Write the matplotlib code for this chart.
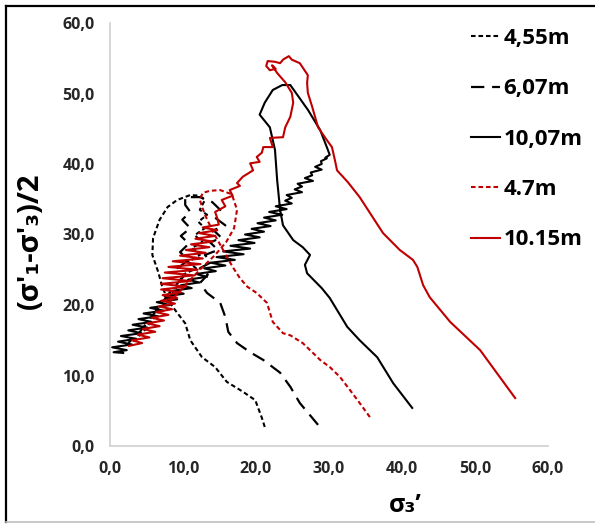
import matplotlib
matplotlib.use("Agg")
import matplotlib.pyplot as plt
from matplotlib.lines import Line2D

plt.rcParams['font.family'] = ['Open Sans', 'DejaVu Sans']

RED = '#c00000'

# stress paths, (sigma3', (sigma1'-sigma3')/2)
x_455 = [21.2, 20.8, 19.9, 18.2, 16.0, 14.4, 12.6, 11.0, 10.3, 9.2, 7.9, 7.1, 6.6, 5.8, 5.9, 6.8,
         7.9, 9.2, 11.0, 12.3, 13.0, 12.3, 13.3, 12.1, 13.0, 11.6, 12.7, 11.2, 12.3, 10.7, 11.8,
         10.0, 8.9, 6.8, 4.8, 3.0]
y_455 = [2.7, 4.0, 6.5, 7.7, 9.1, 11.2, 12.6, 15.0, 17.4, 18.9, 20.7, 22.8, 24.7, 27.1, 29.5, 32.1,
         33.9, 34.9, 35.6, 35.5, 34.9, 33.5, 32.8, 31.8, 30.9, 29.9, 28.9, 28.1, 27.1, 26.1, 25.2,
         24.3, 22.1, 19.3, 16.5, 14.6]

x_607 = [28.5, 26.0, 24.7, 23.3, 21.0, 19.2, 17.4, 16.2, 15.8, 15.1, 13.3, 12.3, 13.4, 12.3, 13.9,
         13.0, 14.8, 13.7, 15.3, 14.2, 15.8, 14.5, 15.1, 14.0, 12.3, 10.3, 10.3, 11.0, 9.9, 11.0,
         9.7, 10.8, 9.6, 10.7, 9.3, 10.1, 8.2, 6.2, 4.1, 2.5]
y_607 = [3.0, 6.1, 8.4, 10.4, 12.2, 13.3, 14.6, 16.2, 18.3, 20.3, 21.7, 23.1, 24.3, 25.2, 26.1,
         27.1, 27.8, 28.9, 29.5, 30.6, 31.3, 32.3, 33.5, 34.6, 35.3, 35.3, 34.2, 33.2, 32.1, 30.9,
         29.8, 28.7, 27.5, 26.4, 25.2, 24.1, 21.8, 19.0, 16.2, 14.6]

# 10,07m: loading branch, then the noisy descent along the failure line
x_1007 = [41.4, 38.8, 36.6, 34.2, 32.5, 30.1, 29.0, 27.0, 26.7, 27.4, 26.4, 25.1, 23.7, 23.3, 22.9,
          22.6, 21.9, 20.5, 21.2, 22.3, 23.6, 24.7, 27.1, 28.8, 29.7, 30.1, 29.5,
          29.7, 28.9, 29.0, 28.1, 29.0, 27.5, 27.7, 26.7, 27.8, 25.7, 26.3, 25.3,
          26.3, 24.2, 24.9, 24.0, 24.9, 22.7, 24.2, 21.8, 23.6, 21.1, 22.7, 20.2,
          22.0, 19.4, 21.1, 18.5, 20.5, 17.6, 19.8, 16.5, 19.2, 15.5, 18.3, 14.6,
          17.1, 13.8, 15.8, 12.9, 14.5, 11.8, 13.3, 10.7, 12.2, 9.7, 11.2, 8.5,
          10.1, 7.5, 9.2, 6.4, 8.2, 5.5, 7.3, 4.6, 6.6, 3.9, 5.7, 3.1,
          5.1, 2.5, 4.3, 1.5, 3.6, 1.1, 3.0, 0.3, 2.3, 0.5, 1.8]
y_1007 = [5.4, 8.9, 12.6, 15.0, 16.9, 21.0, 22.4, 24.5, 25.7, 27.1, 28.2, 29.2, 31.3, 33.5, 37.7,
          42.0, 45.2, 47.0, 48.7, 50.5, 51.2, 51.2, 47.7, 44.8, 42.4, 41.3, 40.9,
          40.8, 40.4, 40.0, 39.6, 39.2, 38.8, 38.4, 38.0, 37.6, 37.2, 36.8, 36.4,
          36.0, 35.6, 35.2, 34.8, 34.4, 34.0, 33.6, 33.2, 32.8, 32.4, 32.0, 31.6,
          31.2, 30.8, 30.4, 30.0, 29.6, 29.2, 28.8, 28.4, 28.0, 27.6, 27.2, 26.8,
          26.4, 26.0, 25.6, 25.2, 24.8, 24.4, 24.0, 23.6, 23.2, 22.8, 22.4, 22.0,
          21.6, 21.2, 20.8, 20.4, 20.0, 19.6, 19.2, 18.8, 18.4, 18.0, 17.6, 17.2,
          16.8, 16.4, 16.0, 15.6, 15.2, 14.8, 14.4, 14.0, 13.6, 13.3, 13.2]

x_47 = [35.6, 34.2, 32.9, 31.5, 30.1, 28.8, 26.4, 24.7, 23.7, 22.3, 21.5, 20.1, 18.8, 17.8, 16.8,
        15.5, 14.1, 13.0, 12.3, 12.7, 13.7, 15.1, 16.7, 17.4, 17.0, 15.9, 14.4, 12.3, 10.3, 8.2]
y_47 = [4.1, 6.1, 7.9, 9.8, 11.2, 12.2, 14.6, 15.7, 16.0, 17.6, 20.3, 21.7, 22.6, 23.8, 25.4,
        27.8, 30.4, 32.8, 34.9, 35.9, 36.2, 36.3, 35.7, 33.5, 30.9, 28.9, 27.1, 25.0, 22.8, 20.4]

# 10.15m: loading branch up to the peak, zigzag back down, then the noisy tail
x_1015 = [55.5, 50.7, 46.6, 43.8, 42.9, 42.1, 41.5, 39.7, 37.4, 34.2, 32.6, 31.9, 31.1, 30.8, 30.4,
          29.7, 28.5, 27.7, 27.1, 27.0, 27.1, 26.0, 24.9, 24.5, 23.7, 23.3, 22.6, 21.6, 21.4,
          21.9, 22.7, 22.2, 22.9, 24.0, 24.9, 25.1, 24.7, 24.0, 23.7, 21.9, 22.3, 21.0, 20.8,
          20.1, 20.5, 19.2, 19.6, 18.2, 17.4, 17.8, 16.4, 16.8, 15.3, 15.8, 14.4, 14.7,
          14.9, 12.7, 14.7, 12.2, 14.4, 11.7, 14.1, 11.1, 13.6, 10.4, 13.1, 9.6,
          12.7, 8.6, 12.4, 8.0, 12.0, 7.5, 11.6, 7.2, 11.0, 7.0, 10.4, 7.0,
          9.7, 7.2, 9.2, 7.0, 8.9, 6.7, 8.5, 6.3, 8.0, 5.7, 7.4, 5.1,
          6.8, 4.5, 6.2, 3.8, 5.4, 3.0, 4.4, 2.6]
y_1015 = [6.8, 13.6, 17.6, 21.1, 22.8, 25.4, 26.4, 27.8, 30.2, 35.3, 37.4, 38.2, 39.1, 40.6, 42.4,
          43.4, 45.2, 48.1, 50.1, 51.5, 52.6, 54.3, 54.8, 55.3, 54.8, 54.3, 54.5, 54.6, 53.9,
          53.3, 53.5, 54.0, 52.9, 51.6, 50.1, 48.7, 46.7, 45.2, 43.8, 43.7, 42.4, 42.4, 41.6,
          41.0, 40.3, 40.1, 39.1, 38.2, 37.3, 36.9, 36.3, 35.5, 34.9, 34.0, 33.2, 32.3,
          31.4, 31.0, 30.6, 30.2, 29.8, 29.4, 29.0, 28.6, 28.2, 27.8, 27.4, 27.0,
          26.6, 26.2, 25.8, 25.4, 25.0, 24.6, 24.2, 23.8, 23.4, 23.0, 22.6, 22.2,
          21.8, 21.4, 21.0, 20.6, 20.2, 19.8, 19.4, 19.0, 18.6, 18.2, 17.8, 17.4,
          17.0, 16.6, 16.2, 15.8, 15.4, 15.0, 14.6, 14.2]

labels = ['4,55m', '6,07m', '10,07m', '4.7m', '10.15m']
ticks = [0, 10, 20, 30, 40, 50, 60]
tick_labels = ['0,0', '10,0', '20,0', '30,0', '40,0', '50,0', '60,0']

fig = plt.figure(figsize=(5.95, 5.24), dpi=100)
ax = fig.add_axes([110 / 595, 1 - 446 / 524, 438 / 595, 423 / 524])

ax.plot(x_455, y_455, color='black', lw=1.5, ls=(0, (2.2, 1.4)), label=labels[0])
ax.plot(x_607, y_607, color='black', lw=1.6, ls=(0, (6, 3.5)), label=labels[1])
ax.plot(x_1007, y_1007, color='black', lw=1.5, label=labels[2])
ax.plot(x_47, y_47, color=RED, lw=1.5, ls=(0, (2.2, 1.4)), label=labels[3])
ax.plot(x_1015, y_1015, color=RED, lw=1.5, label=labels[4])

ax.set_xlim(0, 60)
ax.set_ylim(0, 60)
ax.set_xticks(ticks)
ax.set_xticklabels(tick_labels)
ax.set_yticks(ticks)
ax.set_yticklabels(tick_labels)
ax.tick_params(length=0, labelsize=11.5, colors='#262626')
ax.tick_params(axis='x', pad=11)
ax.tick_params(axis='y', pad=11)
for lbl in ax.get_xticklabels() + ax.get_yticklabels():
    lbl.set_fontweight('bold')

for s in ['top', 'right']:
    ax.spines[s].set_visible(False)
for s in ['left', 'bottom']:
    ax.spines[s].set_color('#d0d0d0')
    ax.spines[s].set_linewidth(1.2)

fig.text(30 / 595, 1 - 241 / 524, "(σ'\u2081-σ'\u2083)/2", rotation=90, ha='center', va='center',
         fontsize=21, fontweight='bold')
fig.text(405 / 595, 1 - 505 / 524, "σ\u2083\u2019", ha='center', va='center',
         fontsize=18, fontweight='bold')

leg = ax.legend(loc='upper left', bbox_to_anchor=(460 / 595, 1 - 17 / 524),
                bbox_transform=fig.transFigure, frameon=False,
                prop={'weight': 'bold', 'size': 16}, handlelength=1.3, handletextpad=0.15,
                labelspacing=1.32, borderpad=0)

# frame around the whole picture
fig.add_artist(Line2D([6 / 595, 1], [1 - 6 / 524, 1 - 6 / 524], color='black', lw=1.6,
                      transform=fig.transFigure))
fig.add_artist(Line2D([6 / 595, 6 / 595], [1 - 6 / 524, 1 - 522 / 524], color='black', lw=1.6,
                      transform=fig.transFigure))
fig.add_artist(Line2D([6 / 595, 1], [1 - 522 / 524, 1 - 522 / 524], color='#bfbfbf', lw=1.2,
                      transform=fig.transFigure))

fig.savefig('out.png', dpi=100)
